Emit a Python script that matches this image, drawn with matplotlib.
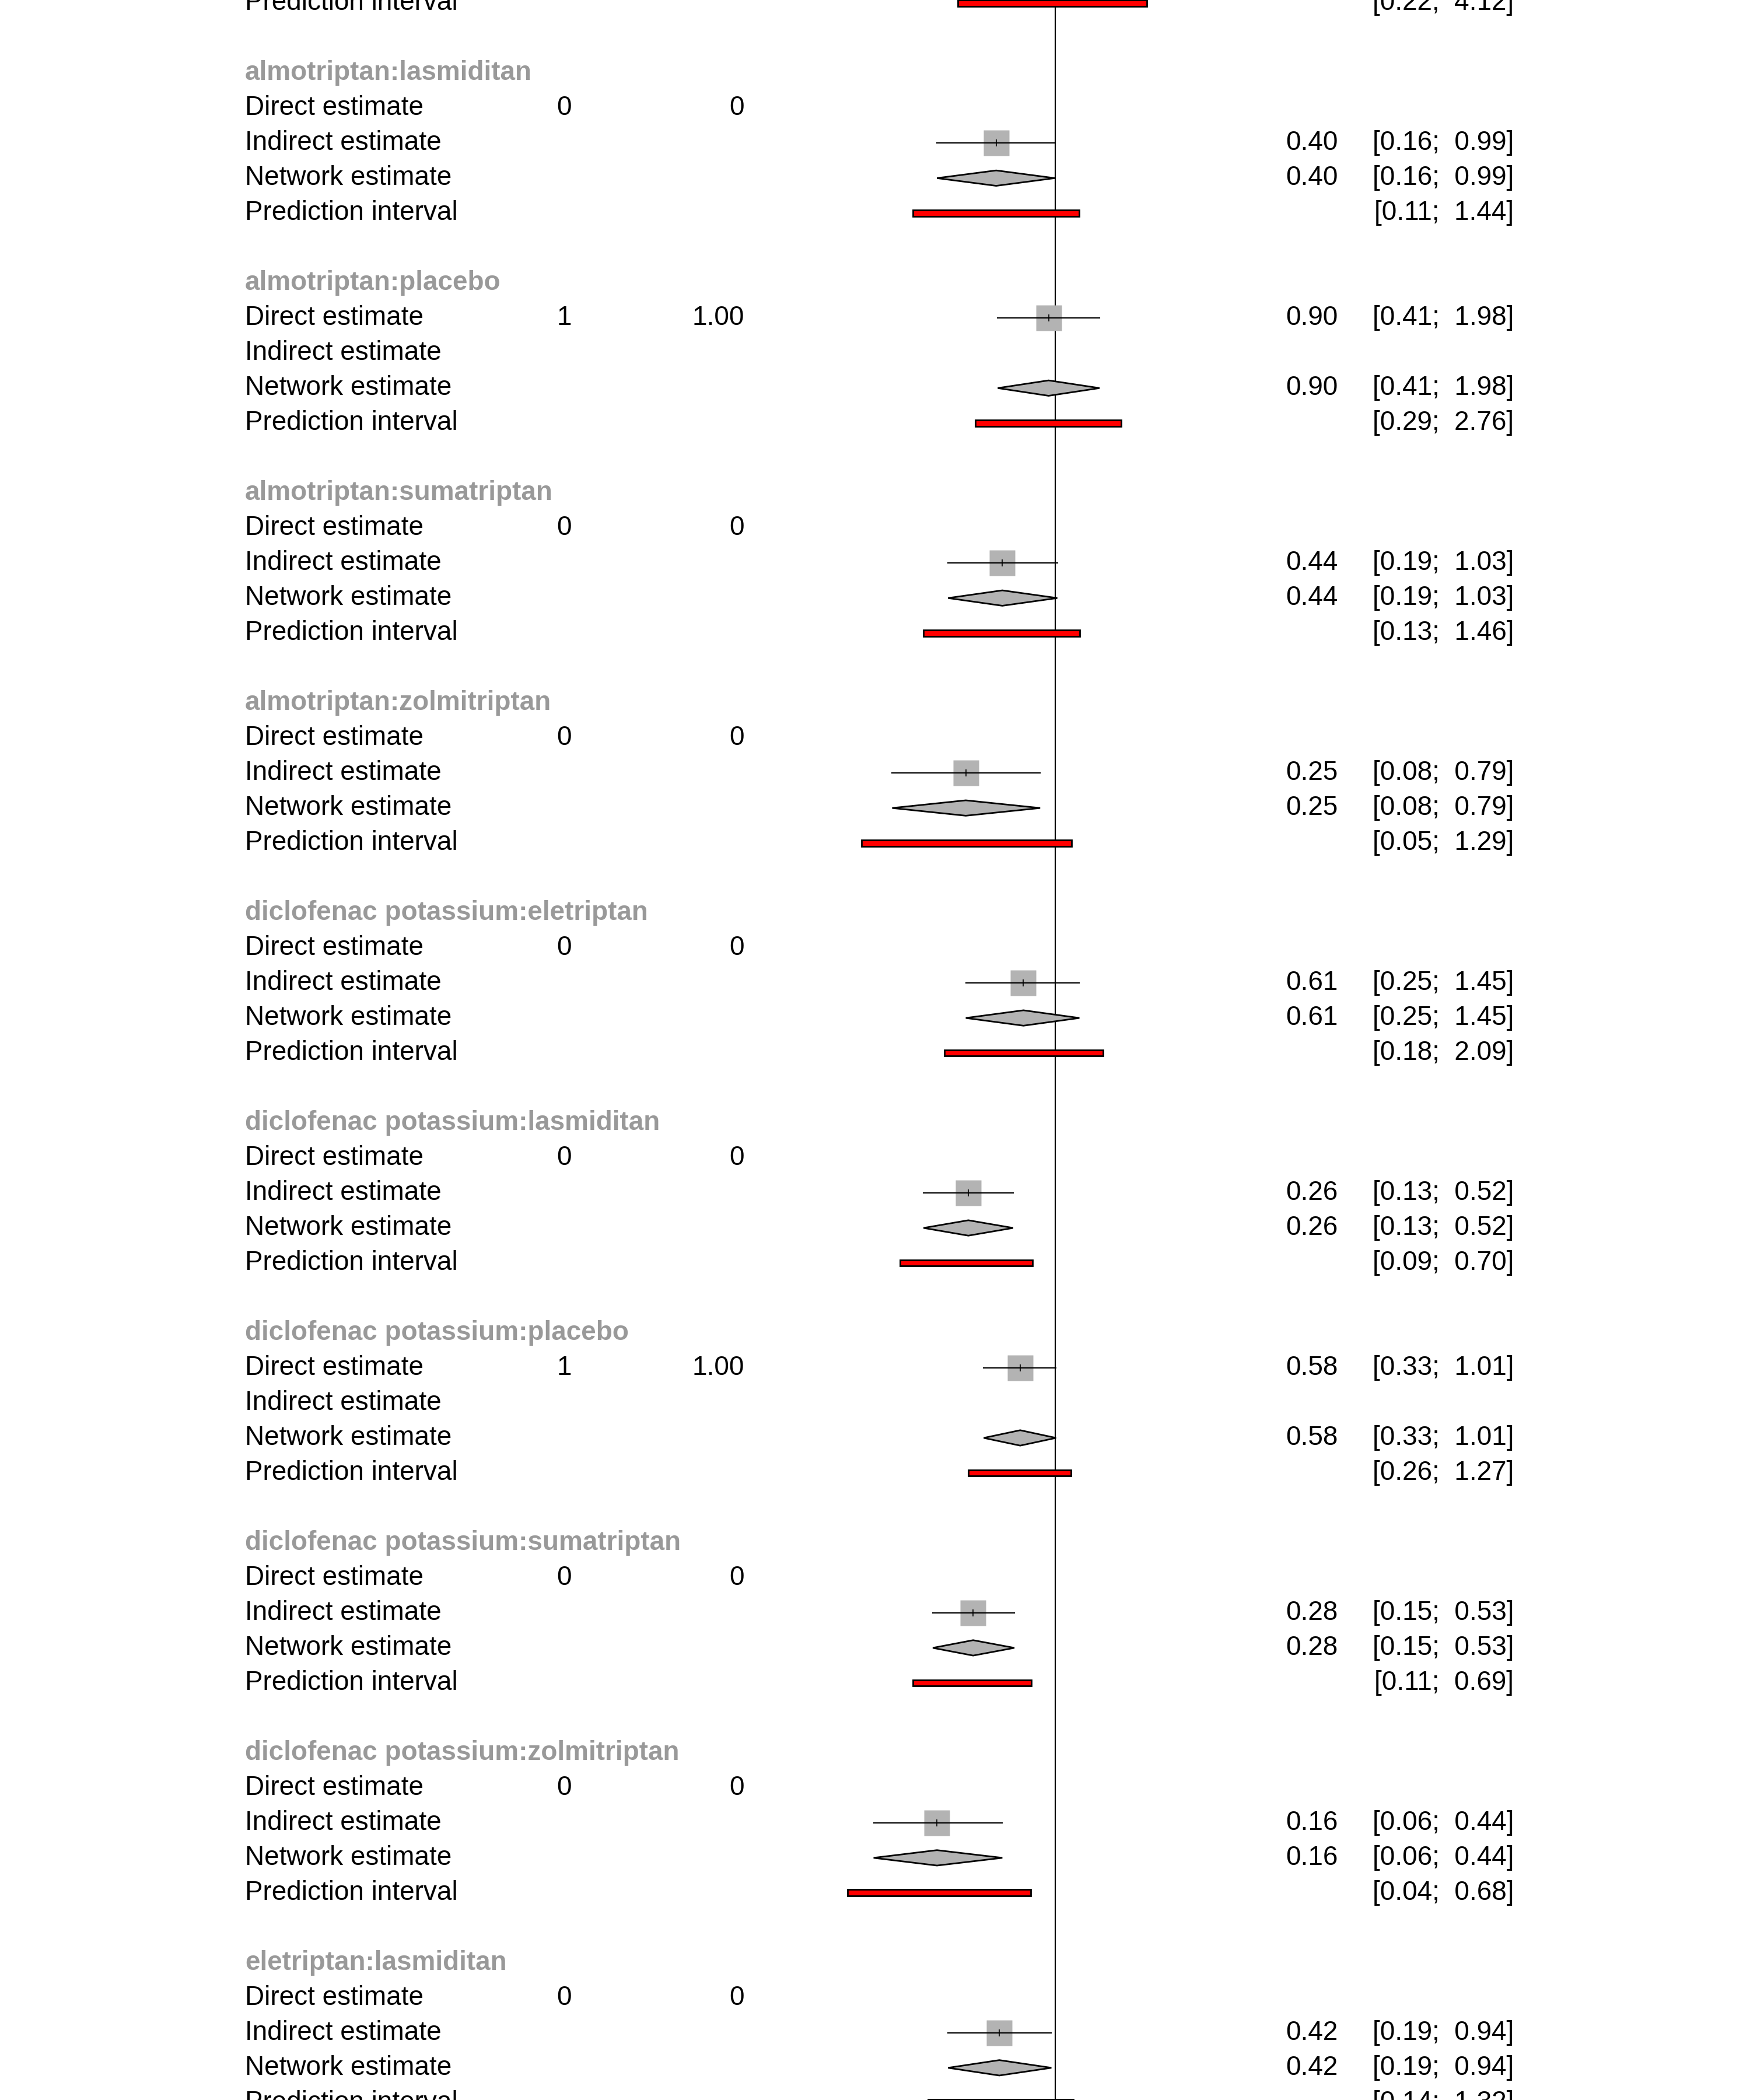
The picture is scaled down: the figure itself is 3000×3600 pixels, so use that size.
import numpy as np
import matplotlib
matplotlib.use('Agg')
from matplotlib import pyplot as plt
from matplotlib import transforms
from matplotlib.patches import Polygon, Rectangle

plt.rcParams['font.family'] = ['Liberation Sans', 'DejaVu Sans']

# comparisons shown (the first one is cut off at the top, only its prediction interval is visible)
comparisons = ['almotriptan:lasmiditan', 'almotriptan:placebo', 'almotriptan:sumatriptan',
               'almotriptan:zolmitriptan', 'diclofenac potassium:eletriptan',
               'diclofenac potassium:lasmiditan', 'diclofenac potassium:placebo',
               'diclofenac potassium:sumatriptan', 'diclofenac potassium:zolmitriptan',
               'eletriptan:lasmiditan']
n_direct = ['0', '1', '0', '0', '0', '0', '1', '0', '0', '0']
w_direct = ['0', '1.00', '0', '0', '0', '0', '1.00', '0', '0', '0']
has_direct = [False, True, False, False, False, False, True, False, False, False]
has_indirect = [True, False, True, True, True, True, False, True, True, True]
est = [0.40, 0.90, 0.44, 0.25, 0.61, 0.26, 0.58, 0.28, 0.16, 0.42]
lower = [0.16, 0.41, 0.19, 0.08, 0.25, 0.13, 0.33, 0.15, 0.06, 0.19]
upper = [0.99, 1.98, 1.03, 0.79, 1.45, 0.52, 1.01, 0.53, 0.44, 0.94]
pi_lower = [0.11, 0.29, 0.13, 0.05, 0.18, 0.09, 0.26, 0.11, 0.04, 0.14]
pi_upper = [1.44, 2.76, 1.46, 1.29, 2.09, 0.70, 1.27, 0.69, 0.68, 1.32]
prev_pi = (0.22, 4.12)

row_labels = ['Direct estimate', 'Indirect estimate', 'Network estimate', 'Prediction interval']

FS = 33
X_LABEL, X_N, X_W, X_EST, X_CI = 0.140, 0.3223, 0.4254, 0.7646, 0.8650

fig = plt.figure(figsize=(30, 36), dpi=100)
ax = fig.add_axes([617 / 1300, 0, 280 / 1300, 1])
ax.set_xscale('log')
ax.set_xlim(np.exp(-167 / 48), np.exp(113 / 48))
ax.set_ylim(57.92, -2.09)
ax.axis('off')
tr = transforms.blended_transform_factory(fig.transFigure, ax.transData)


def ci_text(y, lo, hi, e=None):
    if e is not None:
        ax.text(X_EST, y, '{:.2f}'.format(e), transform=tr, ha='right', va='center', fontsize=FS)
    ax.text(X_CI, y, '[{:.2f};  {:.2f}]'.format(lo, hi), transform=tr, ha='right', va='center',
            fontsize=FS)


def pred_bar(y, lo, hi):
    ax.add_patch(Rectangle((lo, y - 0.09), hi - lo, 0.18, facecolor='#ff0000',
                           edgecolor='black', lw=2, zorder=3))


def square(y, e, lo, hi):
    ax.plot([e], [y], marker='s', markersize=32, color='#b3b3b3', mec='none', zorder=2)
    ax.plot([lo, hi], [y, y], color='black', lw=1.5, zorder=3)
    ax.plot([e], [y], marker='|', markersize=9, color='black', mew=1.2, zorder=4)


# tail of the previous comparison
pred_bar(-2, *prev_pi)
ax.text(X_LABEL, -2, 'Prediction interval', transform=tr, ha='left', va='center', fontsize=FS)
ci_text(-2, *prev_pi)

for i, name in enumerate(comparisons):
    y0 = 6 * i
    ax.text(X_LABEL, y0, name, transform=tr, ha='left', va='center', fontsize=FS,
            color='#999999', fontweight='bold')
    for j, lab in enumerate(row_labels):
        ax.text(X_LABEL, y0 + 1 + j, lab, transform=tr, ha='left', va='center', fontsize=FS)
    yd, yi, yn, yp = y0 + 1, y0 + 2, y0 + 3, y0 + 4
    ax.text(X_N, yd, n_direct[i], transform=tr, ha='center', va='center', fontsize=FS)
    ax.text(X_W, yd, w_direct[i], transform=tr, ha='right', va='center', fontsize=FS)
    if has_direct[i]:
        square(yd, est[i], lower[i], upper[i])
        ci_text(yd, lower[i], upper[i], est[i])
    if has_indirect[i]:
        square(yi, est[i], lower[i], upper[i])
        ci_text(yi, lower[i], upper[i], est[i])
    ax.add_patch(Polygon([[lower[i], yn], [est[i], yn - 0.22], [upper[i], yn], [est[i], yn + 0.22]],
                         closed=True, facecolor='#b3b3b3', edgecolor='black', lw=2, zorder=3))
    ci_text(yn, lower[i], upper[i], est[i])
    pred_bar(yp, pi_lower[i], pi_upper[i])
    ci_text(yp, pi_lower[i], pi_upper[i])

ax.axvline(1, color='black', lw=1.5, zorder=1)

fig.savefig('out.png', dpi=100)
